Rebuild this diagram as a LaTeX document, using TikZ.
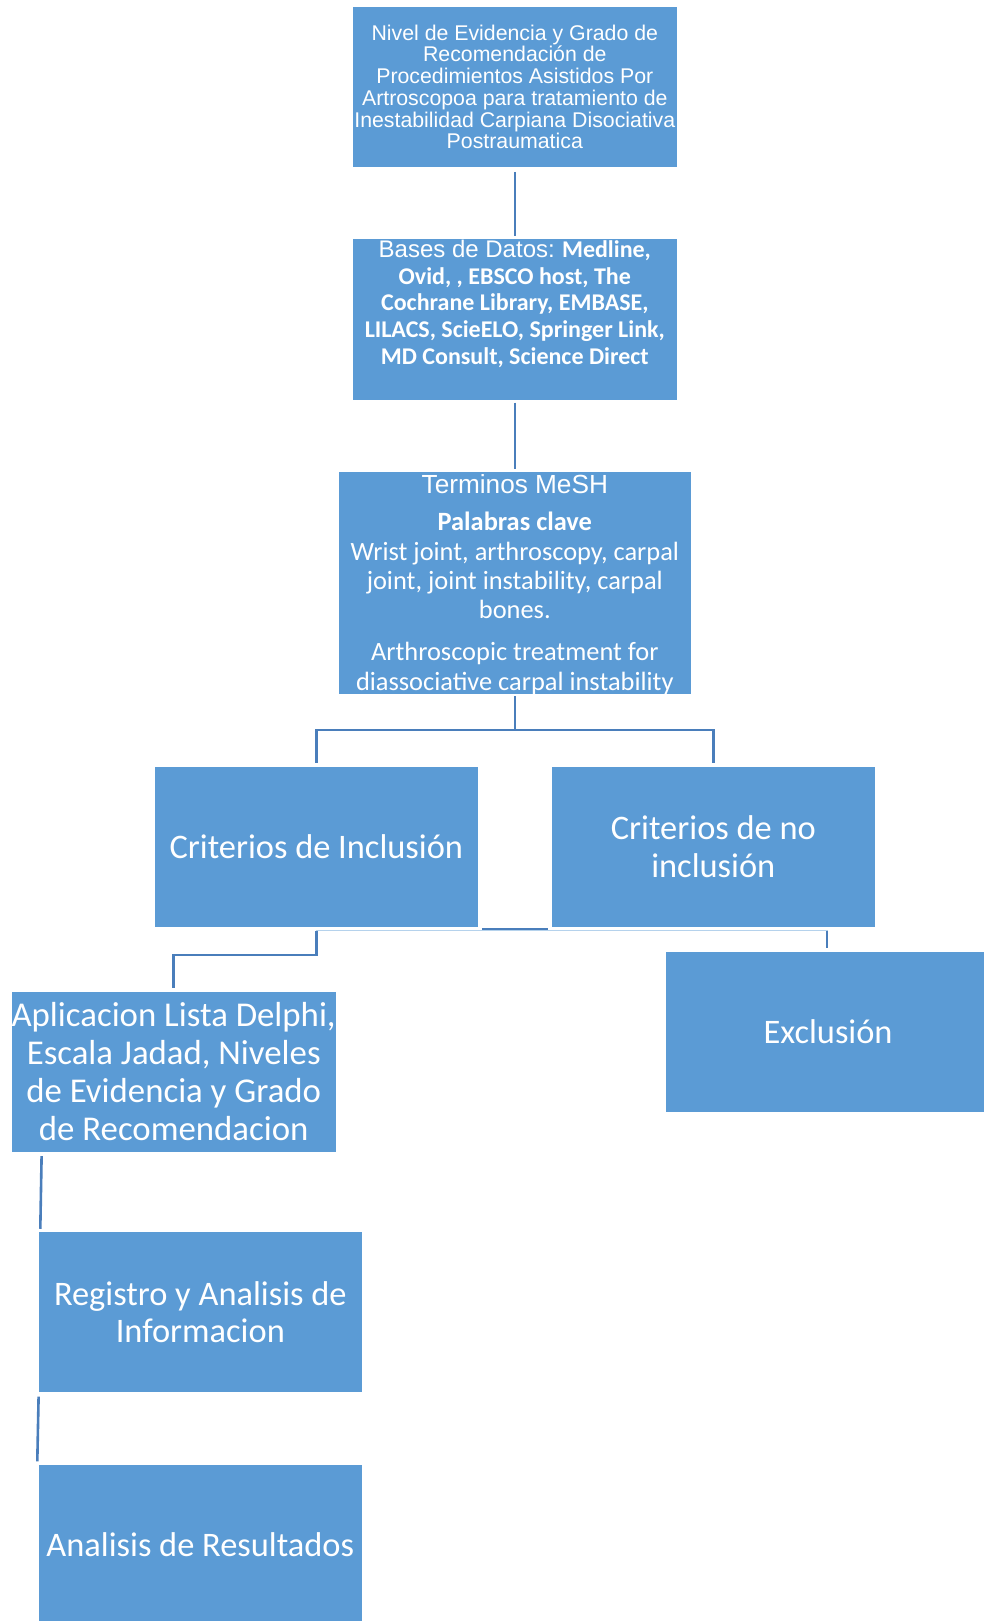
\documentclass[tikz,border=0pt]{standalone}
\usepackage{fontspec}
\setmainfont{Carlito}
\newfontfamily\arialf{Liberation Sans}
\definecolor{blokfill}{HTML}{5B9BD5}
\definecolor{lijnblue}{HTML}{4A7EBB}
\tikzset{
  blok/.style={rectangle,fill=blokfill,draw=white,line width=0.8pt,text=white,inner sep=0pt,
    minimum width=324.6pt,minimum height=161.3pt,align=flush center,
    font=\fontsize{34.4}{37.8}\selectfont},
  lijn/.style={draw=lijnblue,line width=2.6pt},
  vaag/.style={draw=blokfill!45,line width=0.8pt},
}
\begin{document}
\begin{tikzpicture}[x=1pt,y=-1pt]
\useasboundingbox (0,0) rectangle (984,1621);
% blocks
\node[blok,font=\arialf\fontsize{21.3}{21.7}\selectfont] (b1) at (514.8,86.9)
  {Nivel de Evidencia y Grado de\\Recomendación de\\Procedimientos Asistidos Por\\Artroscopoa para tratamiento de\\Inestabilidad Carpiana Disociativa\\Postraumatica};
\node[blok] (b2) at (514.8,319.45) {\parbox[t][161.3pt][t]{324.6pt}{\centering\fontsize{24}{26.6}\selectfont
  \rule{0pt}{19pt}{\arialf Bases de Datos:} \textbf{Medline,}\\
  \textbf{Ovid, , EBSCO host, The}\\
  \textbf{Cochrane Library, EMBASE,}\\
  \textbf{LILACS, ScieELO, Springer Link,}\\
  \textbf{MD Consult, Science Direct}}};
\node[blok,minimum width=353.6pt,minimum height=223.3pt] (b3) at (514.8,583.05)
  {\parbox[t][223.3pt][t]{353.6pt}{\centering\fontsize{26.4}{29.4}\selectfont
  \rule{0pt}{21.9pt}{\arialf\fontsize{26.2}{29.4}\selectfont Terminos MeSH}\\[8pt]
  \textbf{Palabras clave}\\
  Wrist joint, arthroscopy, carpal\\
  joint, joint instability, carpal\\
  bones.\\[12.3pt]
  Arthroscopic treatment for\\
  diassociative carpal instability}};
\node[blok] (b4) at (316.3,846.65) {Criterios de Inclusión};
\node[blok] (b5) at (713.3,846.65) {Criterios de no\\inclusión};
\node[blok,font=\fontsize{34.8}{37.8}\selectfont] (b6) at (173.7,1071.65) {Aplicacion Lista Delphi,\\Escala Jadad, Niveles\\de Evidencia y Grado\\de Recomendacion};
\node[blok] (b7) at (828.1,1031.65) {Exclusión};
\node[blok] (b8) at (200.3,1312.2) {Registro y Analisis de\\Informacion};
\node[blok] (b9) at (200.3,1544.65) {Analisis de Resultados};
% connectors
\draw[lijn,shorten <=4pt,shorten >=2pt] (b1) -- (b2);
\draw[lijn,shorten <=2pt,shorten >=2pt] (b2) -- (b3);
\coordinate (split) at (514.8,730);
\draw[lijn,shorten <=1pt] (b3) -- (split);
\draw[lijn,shorten >=3pt] (split) -| (b4);
\draw[lijn,shorten >=3pt] (split) -| (b5);
\coordinate (j4) at ([yshift=-3pt]b4.south);
\coordinate (j7) at (j4 -| b7.north);
\draw[vaag] (j4) -- (j7);
\draw[lijn,line width=1.8pt] ([xshift=3pt,yshift=-1.4pt]b4.south east) -- ([xshift=-3pt,yshift=-1.4pt]b5.south west);
\draw[lijn,shorten >=3pt] (j4) -- ++(0,24.3) -| (b6.north);
\draw[lijn,shorten >=2.5pt] ([xshift=-1pt]j7) -- ([xshift=-1pt]b7.north);
\draw[lijn] ([xshift=30.6pt,yshift=-3.4pt]b6.south west) -- ([xshift=2.7pt,yshift=2.4pt]b8.north west);
\draw[lijn] ([xshift=1pt,yshift=-3.3pt]b8.south west) -- ([xshift=-0.3pt,yshift=2.3pt]b9.north west);
\end{tikzpicture}
\end{document}
